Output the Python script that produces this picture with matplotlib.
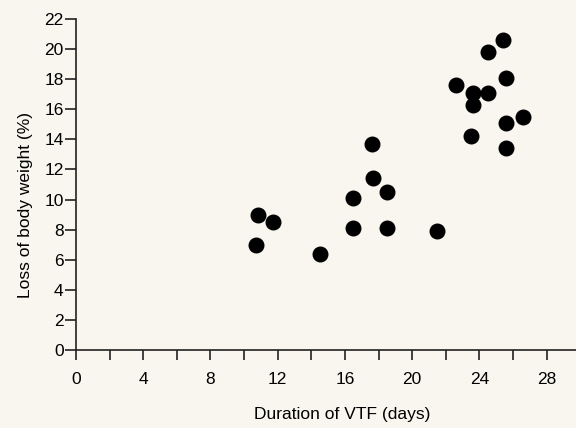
import matplotlib
matplotlib.use("Agg")
import matplotlib.pyplot as plt
from matplotlib.ticker import MultipleLocator

# Duration of VTF (days) vs loss of body weight (%)
duration = [10.8, 11.7, 10.7, 14.5, 17.6, 17.7, 16.5, 18.5, 16.5, 18.5, 21.5,
            25.4, 24.5, 25.6, 22.6, 23.6, 24.5, 23.6, 26.6, 25.6, 23.5, 25.6]
weight_loss = [9.0, 8.5, 7.0, 6.4, 13.7, 11.4, 10.1, 10.5, 8.1, 8.1, 7.9,
               20.6, 19.8, 18.1, 17.6, 17.1, 17.1, 16.3, 15.5, 15.1, 14.2, 13.4]

x_ticks = [0, 4, 8, 12, 16, 20, 24, 28]
y_ticks = list(range(0, 23, 2))

bg = "#f8f6ee"
plt.rcParams['font.family'] = ['Liberation Sans', 'DejaVu Sans']

fig = plt.figure(figsize=(5.76, 4.28), dpi=100, facecolor=bg)
ax = fig.add_axes([0.132, 0.182, 0.868, 0.774], facecolor=bg)

ax.scatter(duration, weight_loss, s=110, color="black", zorder=3, clip_on=False)

ax.set_xlim(0, 29.75)
ax.set_ylim(0, 22)
ax.set_xticks(x_ticks)
ax.xaxis.set_minor_locator(MultipleLocator(2))
ax.set_yticks(y_ticks)

ax.spines['top'].set_visible(False)
ax.spines['right'].set_visible(False)
for s in ['left', 'bottom']:
    ax.spines[s].set_linewidth(1.2)
    ax.spines[s].set_color("#222222")

ax.tick_params(axis='both', which='both', direction='out', width=1.2, color="#222222")
ax.tick_params(axis='x', which='major', length=7, labelsize=12.5, pad=9)
ax.tick_params(axis='x', which='minor', length=7)
ax.tick_params(axis='y', length=8, labelsize=12.5, pad=1)

ax.set_xlabel("Duration of VTF (days)", fontsize=12.5)
ax.set_ylabel("Loss of body weight (%)", fontsize=12.5)
# label placement from the scanned figure (slightly off-centre)
ax.xaxis.set_label_coords(0.532, -0.172)
ax.yaxis.set_label_coords(-0.087, 0.438)

fig.savefig("out.png", dpi=100, facecolor=bg)
